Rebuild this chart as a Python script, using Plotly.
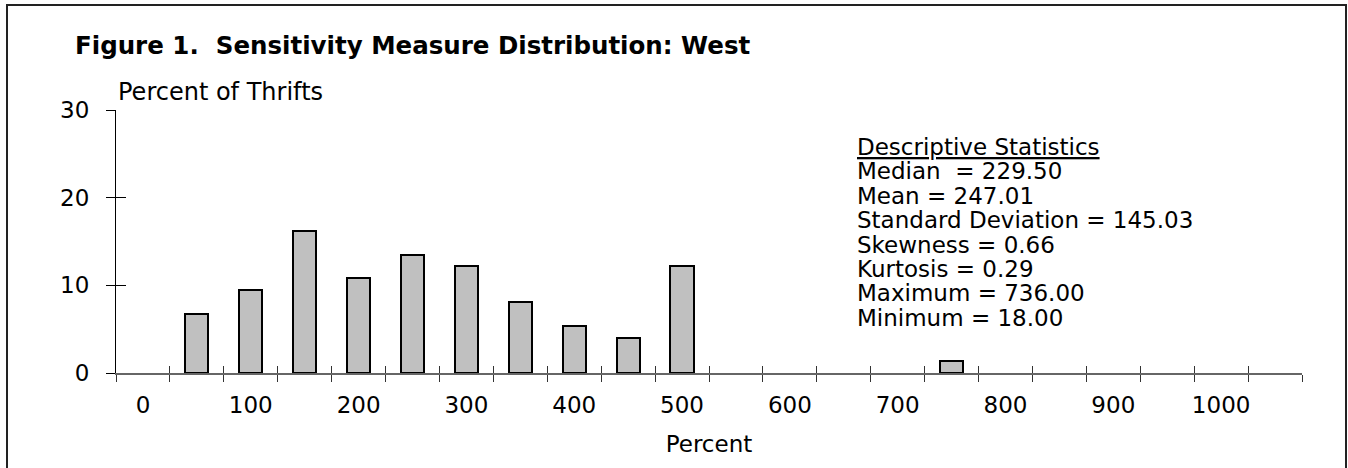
import plotly.graph_objects as go

# === data ===
bin_centers = [50, 100, 150, 200, 250, 300, 350, 400, 450, 500, 750]
pct_thrifts = [6.76, 9.46, 16.22, 10.81, 13.51, 12.16, 8.11, 5.41, 4.05, 12.16, 1.35]
bin_edges = [-25 + 50 * i for i in range(23)]
x_labels = [0, 100, 200, 300, 400, 500, 600, 700, 800, 900, 1000]
y_ticks = [0, 10, 20, 30]
stats_lines = [
    "<u>Descriptive Statistics</u>",
    "Median  = 229.50",
    "Mean = 247.01",
    "Standard Deviation = 145.03",
    "Skewness = 0.66",
    "Kurtosis = 0.29",
    "Maximum = 736.00",
    "Minimum = 18.00",
]

FONT = "DejaVu Sans"
FS = 23
X_RANGE = [-25, 1075]
W, H = 1348, 468

fig = go.Figure()
fig.add_trace(go.Bar(
    x=bin_centers, y=pct_thrifts, width=21.5,
    marker=dict(color="#c0c0c0", line=dict(color="black", width=2)),
    showlegend=False, hoverinfo="x+y",
))
# dummy traces so the overlay axes get drawn
fig.add_trace(go.Scatter(x=[None], y=[None], xaxis="x2", yaxis="y2", showlegend=False, hoverinfo="skip"))
fig.add_trace(go.Scatter(x=[None], y=[None], xaxis="x3", yaxis="y", showlegend=False, hoverinfo="skip"))

fig.update_layout(
    width=W, height=H,
    paper_bgcolor="white", plot_bgcolor="white",
    margin=dict(l=116, r=46, t=110, b=95),
    font=dict(family=FONT, size=FS, color="black"),
    title=dict(
        text="<b>Figure 1.  Sensitivity Measure Distribution: West</b>",
        font=dict(family=FONT, size=24.5, color="black"),
        x=75 / W, xanchor="left", xref="container",
        y=1 - 45 / H, yanchor="middle", yref="container",
    ),
    bargap=0,
    xaxis=dict(
        range=X_RANGE, tickmode="array", tickvals=bin_edges, showticklabels=False,
        ticks="outside", ticklen=7, tickcolor="#333", tickwidth=1,
        showline=True, linecolor="#666", linewidth=2,
        showgrid=False, zeroline=False,
    ),
    xaxis2=dict(
        range=X_RANGE, overlaying="x", anchor="y2", tickmode="array", tickvals=bin_edges,
        showticklabels=False, ticks="inside", ticklen=7, tickcolor="#333", tickwidth=1,
        showline=False, showgrid=False, zeroline=False,
    ),
    xaxis3=dict(
        range=X_RANGE, overlaying="x", anchor="y", tickmode="array", tickvals=x_labels,
        ticks="", showline=False, showgrid=False, zeroline=False,
        ticklabelstandoff=16,
        title=dict(text="Percent", standoff=18, font=dict(size=FS)),
    ),
    yaxis=dict(
        range=[0, 30], tickmode="array", tickvals=y_ticks,
        ticks="outside", ticklen=9, tickcolor="black", tickwidth=1,
        showline=True, linecolor="black", linewidth=1,
        showgrid=False, zeroline=False, ticklabelstandoff=12,
    ),
    yaxis2=dict(
        range=[0, 30], overlaying="y", anchor="x2", tickmode="array", tickvals=y_ticks,
        showticklabels=False, ticks="inside", ticklen=10, tickcolor="black", tickwidth=1,
        showline=False, showgrid=False, zeroline=False,
    ),
)

fig.add_annotation(
    text="Percent of Thrifts", xref="paper", yref="paper", x=0, y=1,
    xanchor="left", yanchor="middle", yshift=18, showarrow=False,
    font=dict(family=FONT, size=24),
)

# descriptive statistics block, one annotation per line
for i, line in enumerate(stats_lines):
    fig.add_annotation(
        text=line, xref="paper", yref="paper",
        x=(855 - 116) / 1186, y=(373 - 147 - 24.4 * i) / 263,
        xanchor="left", yanchor="middle", showarrow=False,
        font=dict(family=FONT, size=FS),
    )

# outer frame
fig.add_shape(
    type="rect", xref="paper", yref="paper",
    x0=(7 - 116) / 1186, x1=(1346 - 116) / 1186,
    y0=(373 - 480) / 263, y1=(373 - 5) / 263,
    line=dict(color="#222", width=2), fillcolor="rgba(0,0,0,0)", layer="above",
)

# drop the default 8px body margin so the figure sits at the window origin
fig.write_html(
    "out.html",
    config={"displayModeBar": False},
    post_script="document.body.style.margin='0';document.body.style.overflow='hidden';",
)
